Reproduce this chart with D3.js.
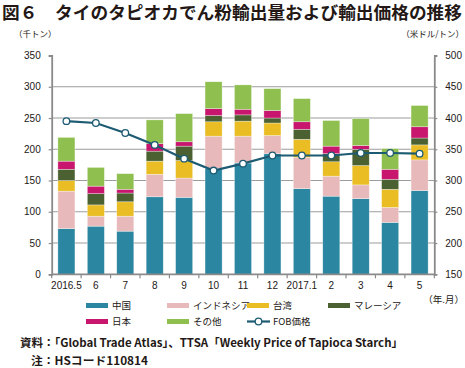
<!DOCTYPE html>
<html><head><meta charset="utf-8">
<script src="https://cdn.jsdelivr.net/npm/d3@7"></script>
<style>
body{margin:0;background:#fff;}
svg{display:block;}
text{font-family:"Liberation Sans","Noto Sans CJK JP",sans-serif;fill:#231815;}
.jp{font-family:"Noto Sans CJK JP",sans-serif;}
</style></head>
<body>
<svg id="c" width="465" height="368"></svg>
<script>
const categories = ["2016.5","6","7","8","9","10","11","12","2017.1","2","3","4","5"];
const china     = [73, 77, 69, 124, 123, 169, 178, 193, 137, 125, 121, 83, 134];
const indonesia = [60, 16, 24, 36, 31, 52, 43, 29, 50, 32, 22, 24, 49];
const taiwan    = [17, 18, 23, 21, 28, 23, 24, 20, 29, 23, 31, 29, 24];
const malaysia  = [18, 18, 14, 16, 23, 10, 10, 8, 16, 13, 26, 16, 11];
const japan     = [13, 12, 6, 12, 7, 11, 9, 12, 12, 12, 6, 16, 18];
const others    = [38, 30, 25, 38, 45, 43, 39, 35, 37, 41, 43, 33, 34];
const fobPrice  = [395, 392, 376, 357, 335, 316, 327, 340, 340, 340, 344, 344, 343];
const leftTicks = [0, 50, 100, 150, 200, 250, 300, 350];
const rightTicks = [150, 200, 250, 300, 350, 400, 450, 500];
const seriesNames = ["中国","インドネシア","台湾","マレーシア","日本","その他"];
const colors = ["#2b87a1","#e8b9ba","#e9bd23","#4b6131","#c8166e","#8fc04f"];
const lineName = "FOB価格";
const lineColor = "#1d5b72";

const seriesData = [china, indonesia, taiwan, malaysia, japan, others];
const table = categories.map((c,i)=>{const o={cat:c}; seriesNames.forEach((s,k)=>o[s]=seriesData[k][i]); return o;});

const svg = d3.select("#c");
const L = 51.7, R = 434.3, T = 55.5, B = 274.3;

const x = d3.scaleBand().domain(categories).range([L,R]).paddingInner(0.42).paddingOuter(0.21);
const yL = d3.scaleLinear().domain([0,350]).range([B,T]);
const yR = d3.scaleLinear().domain([150,500]).range([B,T]);

// title
svg.append("text").attr("class","jp").attr("x",2).attr("y",18.5)
  .attr("font-size",17.5).attr("font-weight","bold").attr("textLength",460).attr("lengthAdjust","spacingAndGlyphs")
  .text("図６　タイのタピオカでん粉輸出量および輸出価格の推移");
svg.append("text").attr("class","jp").attr("x",14).attr("y",37).attr("font-size",8.5).text("（千トン）");
svg.append("text").attr("class","jp").attr("x",464).attr("y",37).attr("font-size",8.5).attr("text-anchor","end").text("（米ドル/トン）");

// grid
svg.append("g").selectAll("line").data(leftTicks.filter(d=>d>0 && d<350)).join("line")
  .attr("x1",L).attr("x2",R).attr("y1",d=>yL(d)).attr("y2",d=>yL(d))
  .attr("stroke","#9c9c9c").attr("stroke-width",1.1);

// bars
const stack = d3.stack().keys(seriesNames)(table);
svg.append("g").selectAll("g").data(stack).join("g").attr("fill",(d,i)=>colors[i])
  .selectAll("rect").data(d=>d).join("rect")
  .attr("x",d=>x(d.data.cat)).attr("width",x.bandwidth())
  .attr("y",d=>yL(d[1])).attr("height",d=>yL(d[0])-yL(d[1]))
  .attr("stroke","#ffffff").attr("stroke-opacity",0.55).attr("stroke-width",0.6);

// axes
const gL = svg.append("g").attr("transform",`translate(${L},0)`).call(d3.axisLeft(yL).tickValues(leftTicks).tickSize(3).tickPadding(8));
const gR = svg.append("g").attr("transform",`translate(${R},0)`).call(d3.axisRight(yR).tickValues(rightTicks).tickSize(3).tickPadding(8));
const gB = svg.append("g").attr("transform",`translate(0,${B})`).call(d3.axisBottom(x).tickSize(0).tickPadding(8));
[gL,gR,gB].forEach(g=>{
  g.select(".domain").attr("stroke","#8a8a8a").attr("stroke-width",1.8);
  g.selectAll(".tick line").attr("stroke","#8a8a8a").attr("stroke-width",1.2);
  g.selectAll("text").attr("font-size",10).attr("fill","#231815").attr("font-family","Liberation Sans, sans-serif");
});
gB.select(".domain").attr("d",`M${L},0H${R}`);
// boundary ticks on x axis
const bounds = categories.map(c=>x(c)-x.step()*x.paddingInner()/2).concat([R]);
bounds[0]=L;
svg.append("g").selectAll("line").data(bounds).join("line")
  .attr("x1",d=>d).attr("x2",d=>d).attr("y1",B).attr("y2",B+4)
  .attr("stroke","#8a8a8a").attr("stroke-width",1.2);

// line
const line = d3.line().x((d,i)=>x(categories[i])+x.bandwidth()/2).y(d=>yR(d));
svg.append("path").datum(fobPrice).attr("d",line).attr("fill","none").attr("stroke",lineColor).attr("stroke-width",2.2);
svg.append("g").selectAll("circle").data(fobPrice).join("circle")
  .attr("cx",(d,i)=>x(categories[i])+x.bandwidth()/2).attr("cy",d=>yR(d)).attr("r",3.3)
  .attr("fill","#fff").attr("stroke",lineColor).attr("stroke-width",1.3);

svg.append("text").attr("class","jp").attr("x",464).attr("y",303).attr("font-size",9.5).attr("text-anchor","end").text("（年.月）");

// legend
const legItems = [
  {n:seriesNames[0],c:colors[0],x:86,y:305.5},
  {n:seriesNames[1],c:colors[1],x:167,y:305.5},
  {n:seriesNames[2],c:colors[2],x:247,y:305.5},
  {n:seriesNames[3],c:colors[3],x:328,y:305.5},
  {n:seriesNames[4],c:colors[4],x:86,y:321.5},
  {n:seriesNames[5],c:colors[5],x:167,y:321.5}
];
const lg = svg.append("g");
legItems.forEach(d=>{
  lg.append("rect").attr("x",d.x).attr("y",d.y-2.5).attr("width",22).attr("height",5).attr("fill",d.c);
  lg.append("text").attr("class","jp").attr("x",d.x+26).attr("y",d.y+3.5).attr("font-size",9.5).text(d.n);
});
lg.append("line").attr("x1",247).attr("x2",270).attr("y1",321.5).attr("y2",321.5).attr("stroke",lineColor).attr("stroke-width",2.2);
lg.append("circle").attr("cx",258.5).attr("cy",321.5).attr("r",3.3).attr("fill","#fff").attr("stroke",lineColor).attr("stroke-width",1.3);
lg.append("text").attr("class","jp").attr("x",273).attr("y",325).attr("font-size",9.5).text(lineName);

// source
svg.append("text").attr("class","jp").attr("x",20).attr("y",347).attr("font-size",11).attr("font-weight","bold")
  .attr("textLength",383).attr("lengthAdjust","spacingAndGlyphs")
  .text("資料：「Global Trade Atlas」、TTSA「Weekly Price of Tapioca Starch」");
svg.append("text").attr("class","jp").attr("x",31).attr("y",365).attr("font-size",11).attr("font-weight","bold")
  .attr("textLength",117).attr("lengthAdjust","spacingAndGlyphs")
  .text("注：HSコード110814");
</script>
</body></html>
